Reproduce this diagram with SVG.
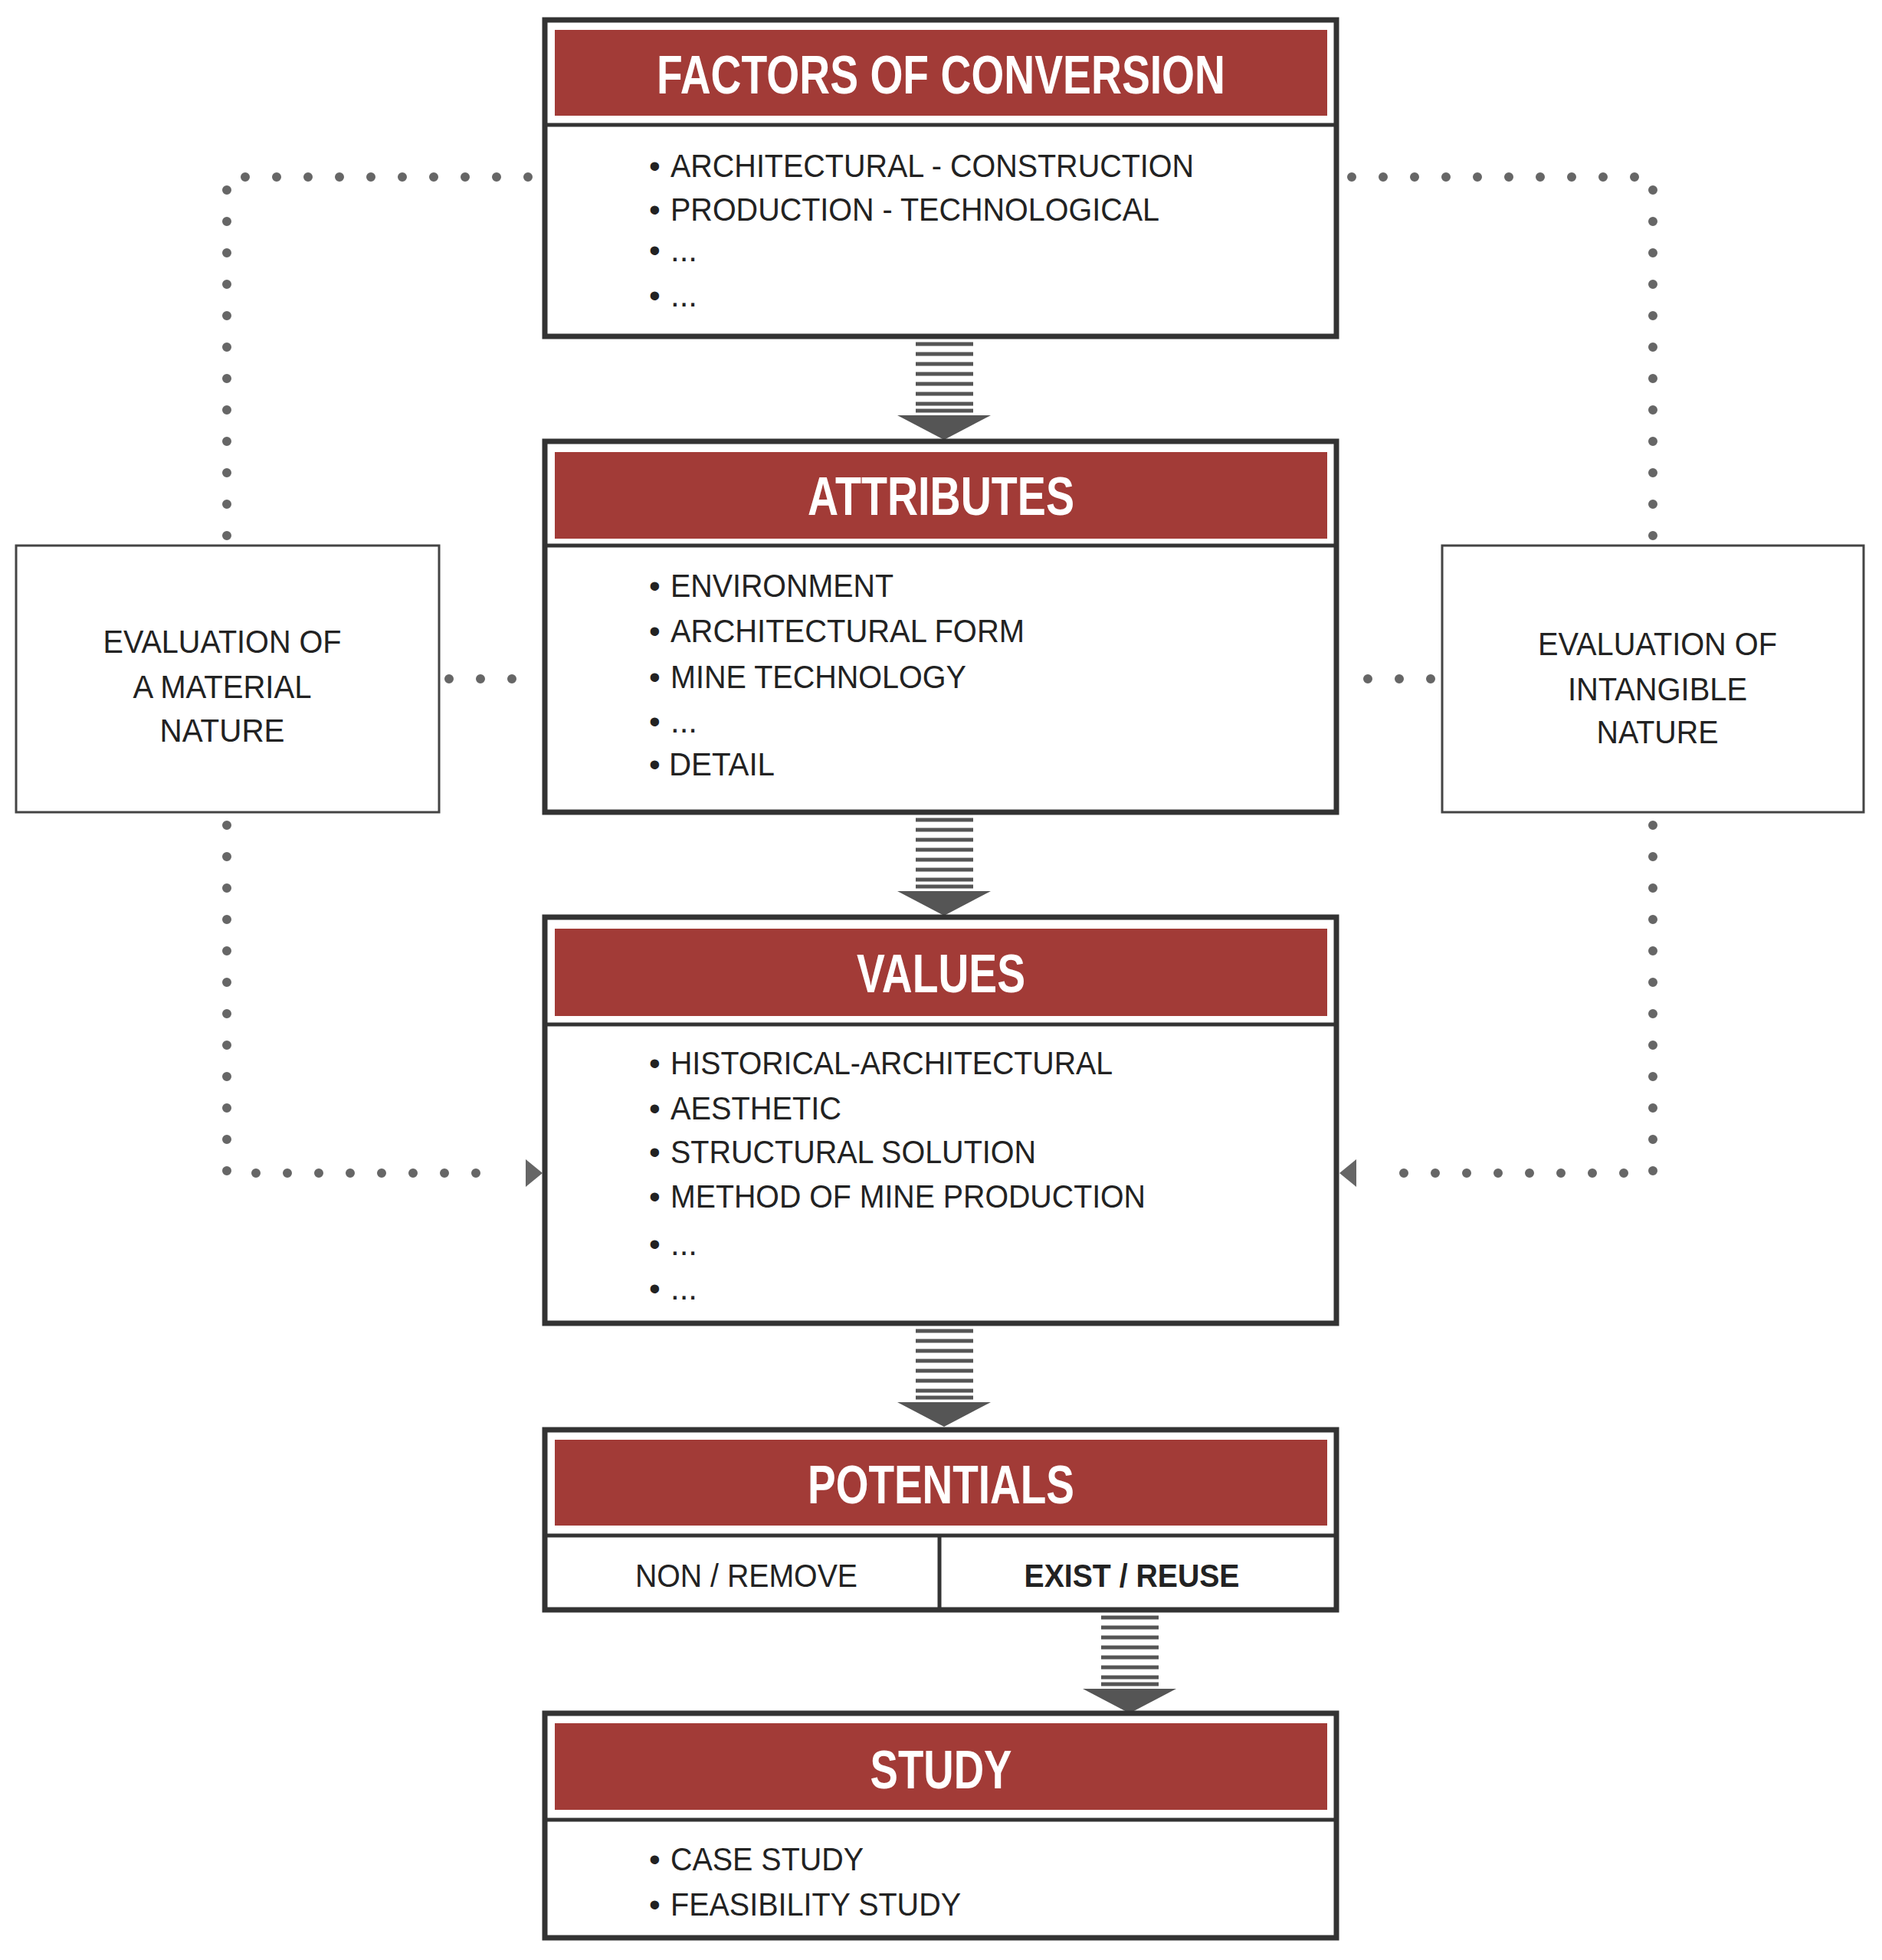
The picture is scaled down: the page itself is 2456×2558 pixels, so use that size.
<svg xmlns="http://www.w3.org/2000/svg" width="2456" height="2558" viewBox="0 0 2456 2558">
<style>
.box{fill:#fff;stroke:#333;stroke-width:7}
.side{fill:#fff;stroke:#444;stroke-width:3}
.hdr{fill:#A23B37}
.div{stroke:#333;stroke-width:5}
.ttl{font-family:"Liberation Sans",Arial,sans-serif;font-weight:bold;font-size:70px;fill:#fff;text-anchor:middle}
.it{font-family:"Liberation Sans",Arial,sans-serif;font-size:42px;fill:#222}
.ct{font-family:"Liberation Sans",Arial,sans-serif;font-size:42px;fill:#222;text-anchor:middle}
.dot{fill:none;stroke:#666;stroke-width:12;stroke-linecap:round;stroke-dasharray:0 41}
.arr line{stroke:#555;stroke-width:5}
.arr polygon{fill:#555}
</style>
<defs>
<g id="arrow" class="arr">
<line x1="1195" y1="449" x2="1270" y2="449"/><line x1="1195" y1="462" x2="1270" y2="462"/><line x1="1195" y1="475" x2="1270" y2="475"/><line x1="1195" y1="488" x2="1270" y2="488"/><line x1="1195" y1="501" x2="1270" y2="501"/><line x1="1195" y1="514" x2="1270" y2="514"/><line x1="1195" y1="527" x2="1270" y2="527"/><line x1="1195" y1="536" x2="1270" y2="536"/>
<polygon points="1171,542 1293,542 1232,574"/>
</g>
</defs>
<g id="connectors">
<path class="dot" d="M296 699 V231 H700"/>
<path class="dot" d="M2157 699 V231 H1760"/>
<path class="dot" d="M586 886 H700"/>
<path class="dot" d="M1867 886 H1757"/>
<path class="dot" d="M296 1077 V1531 H660"/>
<polygon points="686,1513 708,1531 686,1549" fill="#666"/>
<path class="dot" d="M2157 1077 V1531 H1800"/>
<polygon points="1770,1513 1748,1531 1770,1549" fill="#666"/>
<use href="#arrow"/>
<use href="#arrow" transform="translate(0,621)"/>
<use href="#arrow" transform="translate(0,1288)"/>
<use href="#arrow" transform="translate(242,1662)"/>
</g>
<g id="factors">
<rect class="box" x="711" y="26" width="1033" height="413"/>
<rect class="hdr" x="724" y="39" width="1008" height="112"/>
<line class="div" x1="711" y1="163" x2="1744" y2="163"/>
<text class="ttl" x="1228" y="122" textLength="742" lengthAdjust="spacingAndGlyphs">FACTORS OF CONVERSION</text>
<text class="it" x="847" y="231">•</text><text class="it" x="875" y="231" textLength="683" lengthAdjust="spacingAndGlyphs">ARCHITECTURAL - CONSTRUCTION</text>
<text class="it" x="847" y="288">•</text><text class="it" x="875" y="288" textLength="638" lengthAdjust="spacingAndGlyphs">PRODUCTION - TECHNOLOGICAL</text>
<text class="it" x="847" y="341">•</text><text class="it" x="875" y="341">...</text>
<text class="it" x="847" y="400">•</text><text class="it" x="875" y="400">...</text>
</g>
<g id="attributes">
<rect class="box" x="711" y="576" width="1033" height="484"/>
<rect class="hdr" x="724" y="590" width="1008" height="113"/>
<line class="div" x1="711" y1="712" x2="1744" y2="712"/>
<text class="ttl" x="1228" y="672" textLength="348" lengthAdjust="spacingAndGlyphs">ATTRIBUTES</text>
<text class="it" x="847" y="779">•</text><text class="it" x="875" y="779" textLength="291" lengthAdjust="spacingAndGlyphs">ENVIRONMENT</text>
<text class="it" x="847" y="838">•</text><text class="it" x="875" y="838" textLength="462" lengthAdjust="spacingAndGlyphs">ARCHITECTURAL FORM</text>
<text class="it" x="847" y="898">•</text><text class="it" x="875" y="898" textLength="386" lengthAdjust="spacingAndGlyphs">MINE TECHNOLOGY</text>
<text class="it" x="847" y="956">•</text><text class="it" x="875" y="956">...</text>
<text class="it" x="847" y="1012">•</text><text class="it" x="873" y="1012" textLength="138" lengthAdjust="spacingAndGlyphs">DETAIL</text>
</g>
<g id="values">
<rect class="box" x="711" y="1197" width="1033" height="530"/>
<rect class="hdr" x="724" y="1212" width="1008" height="114"/>
<line class="div" x1="711" y1="1337" x2="1744" y2="1337"/>
<text class="ttl" x="1228" y="1295" textLength="220" lengthAdjust="spacingAndGlyphs">VALUES</text>
<text class="it" x="847" y="1402">•</text><text class="it" x="875" y="1402" textLength="577" lengthAdjust="spacingAndGlyphs">HISTORICAL-ARCHITECTURAL</text>
<text class="it" x="847" y="1461">•</text><text class="it" x="875" y="1461" textLength="223" lengthAdjust="spacingAndGlyphs">AESTHETIC</text>
<text class="it" x="847" y="1518">•</text><text class="it" x="875" y="1518" textLength="477" lengthAdjust="spacingAndGlyphs">STRUCTURAL SOLUTION</text>
<text class="it" x="847" y="1576">•</text><text class="it" x="875" y="1576" textLength="620" lengthAdjust="spacingAndGlyphs">METHOD OF MINE PRODUCTION</text>
<text class="it" x="847" y="1638">•</text><text class="it" x="875" y="1638">...</text>
<text class="it" x="847" y="1696">•</text><text class="it" x="875" y="1696">...</text>
</g>
<g id="potentials">
<rect class="box" x="711" y="1866" width="1033" height="235"/>
<rect class="hdr" x="724" y="1879" width="1008" height="112"/>
<line class="div" x1="711" y1="2004" x2="1744" y2="2004"/>
<line class="div" x1="1226" y1="2004" x2="1226" y2="2101"/>
<text class="ttl" x="1228" y="1962" textLength="348" lengthAdjust="spacingAndGlyphs">POTENTIALS</text>
<text class="ct" x="974" y="2071" textLength="290" lengthAdjust="spacingAndGlyphs">NON / REMOVE</text>
<text class="ct" x="1477" y="2071" font-weight="bold" textLength="281" lengthAdjust="spacingAndGlyphs">EXIST / REUSE</text>
</g>
<g id="study">
<rect class="box" x="711" y="2236" width="1033" height="293"/>
<rect class="hdr" x="724" y="2249" width="1008" height="113"/>
<line class="div" x1="711" y1="2375" x2="1744" y2="2375"/>
<text class="ttl" x="1228" y="2334" textLength="185" lengthAdjust="spacingAndGlyphs">STUDY</text>
<text class="it" x="847" y="2441">•</text><text class="it" x="875" y="2441" textLength="252" lengthAdjust="spacingAndGlyphs">CASE STUDY</text>
<text class="it" x="847" y="2500">•</text><text class="it" x="875" y="2500" textLength="379" lengthAdjust="spacingAndGlyphs">FEASIBILITY STUDY</text>
</g>
<g id="material">
<rect class="side" x="21" y="712" width="552" height="348"/>
<text class="ct" x="290" y="852" textLength="311" lengthAdjust="spacingAndGlyphs">EVALUATION OF</text>
<text class="ct" x="290" y="911" textLength="233" lengthAdjust="spacingAndGlyphs">A MATERIAL</text>
<text class="ct" x="290" y="968" textLength="163" lengthAdjust="spacingAndGlyphs">NATURE</text>
</g>
<g id="intangible">
<rect class="side" x="1882" y="712" width="550" height="348"/>
<text class="ct" x="2163" y="855" textLength="312" lengthAdjust="spacingAndGlyphs">EVALUATION OF</text>
<text class="ct" x="2163" y="914" textLength="234" lengthAdjust="spacingAndGlyphs">INTANGIBLE</text>
<text class="ct" x="2163" y="970" textLength="159" lengthAdjust="spacingAndGlyphs">NATURE</text>
</g>
</svg>
